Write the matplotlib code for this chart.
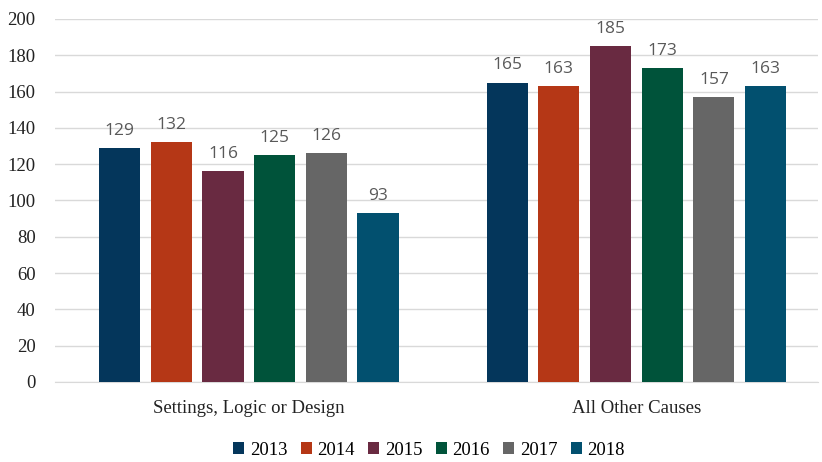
import numpy as np
import matplotlib.pyplot as plt

# データ
categories = ["Settings, Logic or Design", "All Other Causes"]
years = ["2013", "2014", "2015", "2016", "2017", "2018"]
values = {
    "2013": [129, 165],
    "2014": [132, 163],
    "2015": [116, 185],
    "2016": [125, 173],
    "2017": [126, 157],
    "2018": [93, 163],
}
colors = ["#04365B", "#B53716", "#692A41", "#00533A", "#666666", "#02506F"]

fig = plt.figure(figsize=(8.22, 4.62), dpi=100)
ax = fig.add_axes([0.0669, 0.1732, 0.928, 0.7857])

x = np.arange(len(categories))
pitch = 0.1333
width = 0.106
for i, yr in enumerate(years):
    pos = x + (i - 2.5) * pitch
    bars = ax.bar(pos, values[yr], width, color=colors[i], label=yr, zorder=3)
    for b, v in zip(bars, values[yr]):
        ax.text(b.get_x() + b.get_width() / 2, v + 5, str(v), ha="center", va="bottom",
                fontsize=12.5, color="#595959", family="Open Sans")

ax.set_xlim(-0.5, 1.468)
ax.set_ylim(0, 200)
ax.set_yticks(range(0, 201, 20))
ax.set_xticks(x)
ax.set_xticklabels(categories, family="Liberation Serif", fontsize=13.5, color="#222222")
for t in ax.get_yticklabels():
    t.set_family("Liberation Serif")
    t.set_fontsize(13.5)
    t.set_color("#222222")
ax.tick_params(axis="y", length=0, pad=14)
ax.tick_params(axis="x", length=0, pad=13)
ax.grid(axis="y", color="#D9D9D9", linewidth=1, zorder=0)
for s in ["top", "right", "left"]:
    ax.spines[s].set_visible(False)
ax.spines["bottom"].set_color("#D9D9D9")

leg = fig.legend(loc="center", bbox_to_anchor=(0.522, 0.025), ncol=6, frameon=False,
                 prop={"family": "Liberation Serif", "size": 13.5},
                 handlelength=0.6, handleheight=0.6, handletextpad=0.3, columnspacing=0.7)

plt.savefig("out.png")
plt.close()
